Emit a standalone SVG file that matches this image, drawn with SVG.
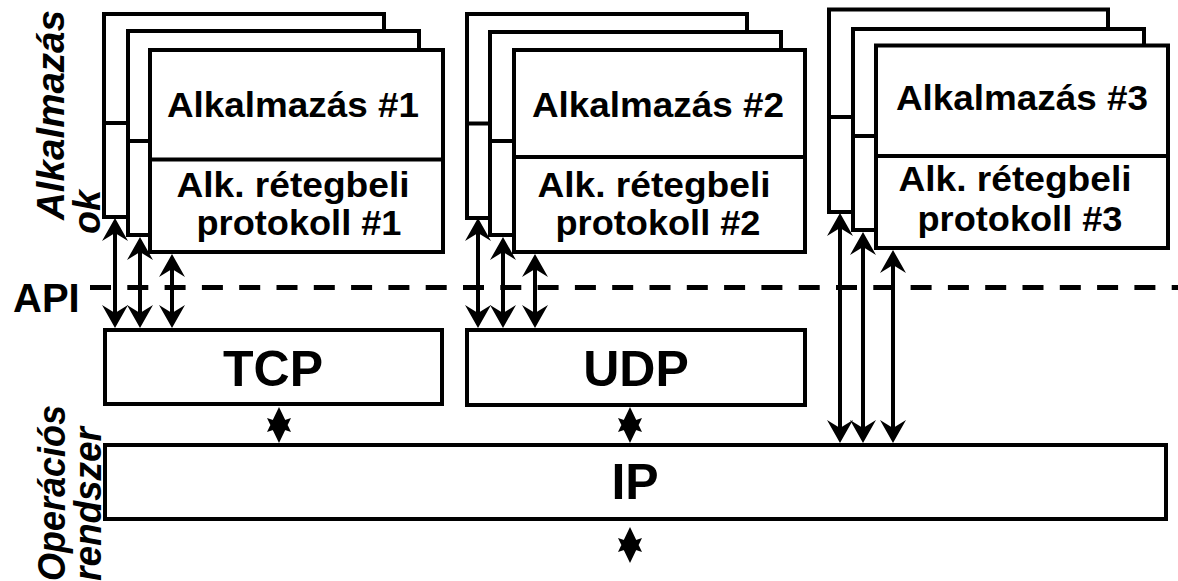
<svg xmlns="http://www.w3.org/2000/svg" width="1178" height="581" viewBox="0 0 1178 581">
<style>
.box{fill:#fff;stroke:#000;stroke-width:4}
.div{stroke:#000;stroke-width:4}
.t{font-family:"Liberation Sans",Arial,sans-serif;font-weight:bold;fill:#000}
.app{font-size:35px;text-anchor:middle}
.big{font-size:50px;text-anchor:middle}
.side{font-size:39px;font-style:italic}
.conn line{stroke:#000;stroke-width:4;marker-start:url(#ah);marker-end:url(#ah)}
.conn path{fill:#000;stroke:none}
</style>
<defs>
<marker id="ah" viewBox="-25 -15 30 30" refX="-8" refY="0" markerWidth="30" markerHeight="30" markerUnits="userSpaceOnUse" orient="auto-start-reverse">
<path d="M0,0 L-23,-13 L-15,0 L-23,13 Z" fill="#000"/>
</marker>
</defs>
<rect width="1178" height="581" fill="#fff"/>

<g id="label-apps">
<text class="t side" transform="translate(64,220) rotate(-90)" textLength="210" lengthAdjust="spacingAndGlyphs">Alkalmazás</text>
<text class="t side" transform="translate(100,234) rotate(-90)" textLength="44" lengthAdjust="spacingAndGlyphs">ok</text>
</g>
<g id="label-os">
<text class="t side" transform="translate(65,581) rotate(-90)" textLength="176" lengthAdjust="spacingAndGlyphs">Operációs</text>
<text class="t side" transform="translate(101,581) rotate(-90)" textLength="154" lengthAdjust="spacingAndGlyphs">rendszer</text>
</g>

<g id="api">
<line x1="90" y1="287.5" x2="1178" y2="287.5" stroke="#000" stroke-width="5" stroke-dasharray="21 16.3"/>
<text class="t" x="13" y="312" font-size="40">API</text>
</g>

<g id="app1">
<rect class="box" x="104" y="14" width="280" height="203"/>
<line class="div" x1="104" y1="123" x2="384" y2="123"/>
<rect class="box" x="128" y="31" width="291" height="204"/>
<line class="div" x1="128" y1="141" x2="419" y2="141"/>
<rect class="box" x="150" y="50" width="293" height="202"/>
<line class="div" x1="150" y1="159.5" x2="443" y2="159.5"/>
<text class="t app" x="293" y="117" textLength="252" lengthAdjust="spacingAndGlyphs">Alkalmazás #1</text>
<text class="t app" x="293" y="197" textLength="233" lengthAdjust="spacingAndGlyphs">Alk. rétegbeli</text>
<text class="t app" x="299" y="235" textLength="205" lengthAdjust="spacingAndGlyphs">protokoll #1</text>
</g>

<g id="app2">
<rect class="box" x="467" y="14" width="280" height="204"/>
<line class="div" x1="467" y1="123.5" x2="747" y2="123.5"/>
<rect class="box" x="490" y="32" width="291" height="203"/>
<line class="div" x1="490" y1="141" x2="781" y2="141"/>
<rect class="box" x="514" y="50" width="291" height="202"/>
<line class="div" x1="514" y1="157" x2="805" y2="157"/>
<text class="t app" x="658" y="117" textLength="252" lengthAdjust="spacingAndGlyphs">Alkalmazás #2</text>
<text class="t app" x="654" y="197" textLength="233" lengthAdjust="spacingAndGlyphs">Alk. rétegbeli</text>
<text class="t app" x="658" y="235" textLength="205" lengthAdjust="spacingAndGlyphs">protokoll #2</text>
</g>

<g id="app3">
<rect class="box" x="829" y="9.5" width="279" height="202.5"/>
<line class="div" x1="829" y1="117" x2="1108" y2="117"/>
<rect class="box" x="853" y="29" width="291" height="201"/>
<line class="div" x1="853" y1="136" x2="1144" y2="136"/>
<rect class="box" x="876" y="45.5" width="292" height="202.5"/>
<line class="div" x1="876" y1="156" x2="1168" y2="156"/>
<text class="t app" x="1022" y="110" textLength="252" lengthAdjust="spacingAndGlyphs">Alkalmazás #3</text>
<text class="t app" x="1015" y="191" textLength="233" lengthAdjust="spacingAndGlyphs">Alk. rétegbeli</text>
<text class="t app" x="1020" y="231" textLength="205" lengthAdjust="spacingAndGlyphs">protokoll #3</text>
</g>

<g id="tcp">
<rect class="box" x="105" y="330" width="337" height="74"/>
<text class="t big" x="273" y="386">TCP</text>
</g>
<g id="udp">
<rect class="box" x="467" y="330" width="338" height="75"/>
<text class="t big" x="636" y="386">UDP</text>
</g>
<g id="ip">
<rect class="box" x="105" y="445" width="1061" height="74"/>
<text class="t big" x="635" y="499">IP</text>
</g>

<g id="connectors" class="conn">
<line x1="115" y1="226" x2="115" y2="320"/>
<line x1="140" y1="245" x2="140" y2="320"/>
<line x1="172" y1="262" x2="172" y2="320"/>
<line x1="478" y1="226" x2="478" y2="320"/>
<line x1="503" y1="245" x2="503" y2="320"/>
<line x1="535" y1="262" x2="535" y2="320"/>
<line x1="840" y1="221" x2="840" y2="435"/>
<line x1="863" y1="240" x2="863" y2="435"/>
<line x1="893" y1="258" x2="893" y2="435"/>
<path d="M279,407 L291,432 L279,428 L267,432 Z M279,443 L267,418 L279,422 L291,418 Z"/>
<path d="M630,407 L642,432 L630,428 L618,432 Z M630,443 L618,418 L630,422 L642,418 Z"/>
<path d="M630,527 L642,552 L630,548 L618,552 Z M630,563 L618,538 L630,542 L642,538 Z"/>
</g>
</svg>
